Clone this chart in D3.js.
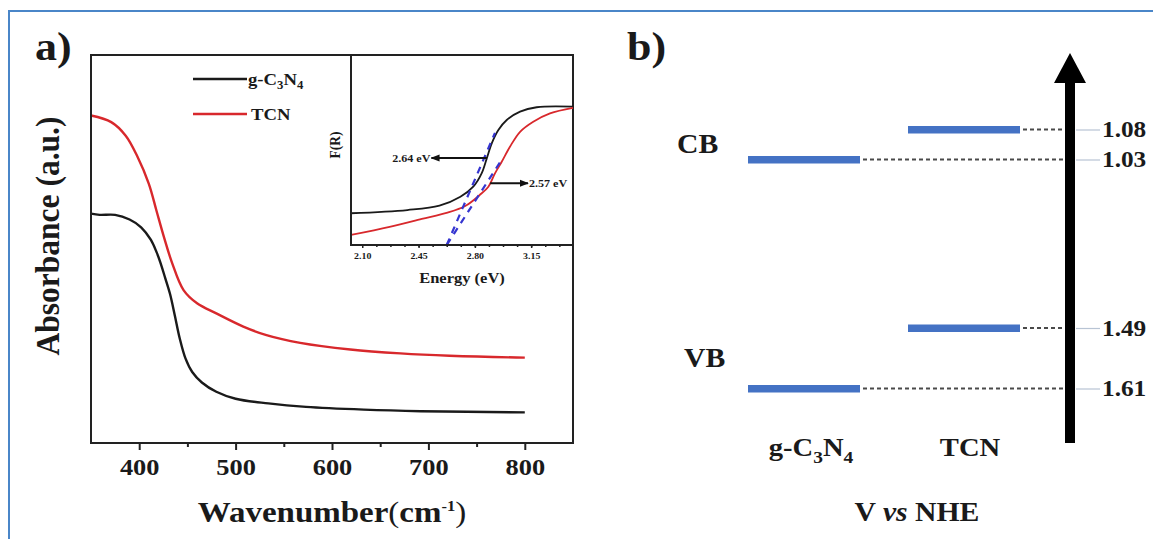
<!DOCTYPE html>
<html>
<head>
<meta charset="utf-8">
<title>Absorbance and band positions</title>
<script src="https://d3js.org/d3.v7.min.js"></script>
<style>
body { margin: 0; background: #fff; }
text { font-family: "Liberation Serif", "Times New Roman", serif; font-weight: bold; fill: #1a1a1a; }
</style>
</head>
<body>
<script type="text/javascript">

var width = 1153,
    height = 539,
    stretch = 1.1,      // the figure is a bit wider than tall, text too
    red = "#d8282c",
    blue = "#4472c4";

// panel a) main spectra
var gWave = [350, 359, 375, 390, 402, 412, 418, 422, 427, 432, 437, 442, 448, 455, 465, 480, 500, 534, 573, 633, 692, 800];
var gAbs  = [0.591, 0.588, 0.588, 0.576, 0.556, 0.524, 0.492, 0.465, 0.425, 0.384, 0.328, 0.270, 0.218, 0.183, 0.156, 0.132, 0.114, 0.102, 0.093, 0.086, 0.082, 0.079];
var tWave = [350, 371, 386, 398, 410, 418, 426, 434, 446, 460, 480, 508, 532, 567, 619, 671, 722, 800];
var tAbs  = [0.844, 0.827, 0.792, 0.739, 0.668, 0.598, 0.528, 0.465, 0.394, 0.360, 0.334, 0.300, 0.278, 0.258, 0.241, 0.231, 0.225, 0.220];
var xTicks = [400, 500, 600, 700, 800];
var xMinor = [450, 550, 650, 750];

// inset: F(R) vs energy
var gEnergy = [2.03, 2.38, 2.58, 2.71, 2.79, 2.842, 2.874, 2.905, 2.946, 2.998, 3.081, 3.184, 3.41];
var gFR     = [0.167, 0.184, 0.207, 0.254, 0.307, 0.377, 0.456, 0.535, 0.605, 0.658, 0.702, 0.725, 0.728];
var tEnergy = [2.03, 2.27, 2.47, 2.63, 2.74, 2.83, 2.884, 2.925, 2.967, 3.018, 3.081, 3.163, 3.267, 3.41];
var tFR     = [0.053, 0.096, 0.137, 0.170, 0.205, 0.263, 0.307, 0.377, 0.438, 0.517, 0.596, 0.649, 0.693, 0.722];
var insetTicks = [2.10, 2.45, 2.80, 3.15];
var tangentE = [[2.625, 2.925], [2.625, 2.975]];
var tangentF = [[0.0, 0.59], [0.0, 0.46]];
var gapLabels = ["2.64 eV", "2.57 eV"];
var gapArrowE = [[2.875, 2.53], [2.895, 3.13]];
var gapArrowF = [0.458, 0.325];

// panel b) band positions
var materials = ["g-C3N4", "TCN"];
var cbLevels = [-1.03, -1.08];
var vbLevels = [1.61, 1.49];
var potLevels = [-1.08, -1.03, 1.49, 1.61];
var potLabels = ["1.08", "1.03", "1.49", "1.61"];

var svg = d3.select("body").append("svg")
    .attr("width", width)
    .attr("height", height);

// outer blue frame
svg.append("rect")
    .attr("x", 9).attr("y", 11)
    .attr("width", width + 20).attr("height", height + 20)
    .style("fill", "none").style("stroke", "#4a86c8").style("stroke-width", 2);

function label(px, py, size, str) {
    var t = svg.append("text")
        .attr("transform", "translate(" + px + "," + py + ") scale(" + stretch + ",1)")
        .style("font-size", size + "px");
    if (str) t.text(str);
    return t;
}

// g-C3N4 with subscripts
function formula(sel, size) {
    sel.append("tspan").text("g-C");
    sel.append("tspan").text("3").attr("dy", size * 0.25).style("font-size", size * 0.68 + "px");
    sel.append("tspan").text("N").attr("dy", -size * 0.25);
    sel.append("tspan").text("4").attr("dy", size * 0.25).style("font-size", size * 0.68 + "px");
}

// ---------- panel a ----------
var x = d3.scaleLinear().domain([350, 850]).range([91, 573]);
var y = d3.scaleLinear().domain([0, 1]).range([443, 55]);

var line = d3.line().curve(d3.curveCatmullRom.alpha(0.5));

svg.append("path")
    .attr("d", line(gWave.map((w, i) => [x(w), y(gAbs[i])])))
    .style("fill", "none").style("stroke", "#1a1a1a").style("stroke-width", 2.4);
svg.append("path")
    .attr("d", line(tWave.map((w, i) => [x(w), y(tAbs[i])])))
    .style("fill", "none").style("stroke", red).style("stroke-width", 2.4);

svg.append("rect")
    .attr("x", 91).attr("y", 55).attr("width", 482).attr("height", 388)
    .style("fill", "none").style("stroke", "#222").style("stroke-width", 2);

var xAxis = svg.append("g").attr("transform", "translate(0,443)");
xAxis.call(d3.axisBottom(x).tickValues(xTicks).tickSize(7).tickPadding(8));
xAxis.append("g").call(d3.axisBottom(x).tickValues(xMinor).tickSize(4).tickFormat(""));
xAxis.selectAll(".domain").remove();
xAxis.selectAll("line").style("stroke", "#222").style("stroke-width", 2);
xAxis.selectAll("text").style("font-size", "24px").style("fill", "#1a1a1a")
    .style("font-family", "'Liberation Serif', serif").style("font-weight", "bold")
    .attr("transform", "scale(" + stretch + ",1)");

label(35, 60, 40, "a)");

svg.append("text")
    .attr("transform", "translate(59,236) rotate(-90) scale(1," + stretch + ")")
    .attr("text-anchor", "middle")
    .style("font-size", "31.5px")
    .text("Absorbance (a.u.)");

var xt = label(332, 522, 30).attr("text-anchor", "middle");
xt.append("tspan").text("Wavenumber");
xt.append("tspan").text("(").style("font-weight", "normal");
xt.append("tspan").text("cm");
xt.append("tspan").text("-1").attr("dy", -11).style("font-size", "15px");
xt.append("tspan").text(")").attr("dy", 11).style("font-weight", "normal");

// legend
var legendColors = ["#1a1a1a", red];
var legend = svg.append("g");
legend.selectAll("line").data(legendColors).enter().append("line")
    .attr("x1", 193).attr("x2", 247)
    .attr("y1", (d, i) => 79 + i * 35).attr("y2", (d, i) => 79 + i * 35)
    .style("stroke", d => d).style("stroke-width", 2.4);
formula(label(248, 85, 17), 17);
label(251, 120, 17, "TCN");

// ---------- inset ----------
var ix = d3.scaleLinear().domain([2.03, 3.41]).range([351, 573]);
var iy = d3.scaleLinear().domain([0, 1]).range([245, 55]);

svg.append("path")
    .attr("d", line(gEnergy.map((e, i) => [ix(e), iy(gFR[i])])))
    .style("fill", "none").style("stroke", "#1a1a1a").style("stroke-width", 1.8);
svg.append("path")
    .attr("d", line(tEnergy.map((e, i) => [ix(e), iy(tFR[i])])))
    .style("fill", "none").style("stroke", red).style("stroke-width", 1.8);

tangentE.forEach(function(e, k) {
    svg.append("line")
        .attr("x1", ix(e[0])).attr("y1", iy(tangentF[k][0]))
        .attr("x2", ix(e[1])).attr("y2", iy(tangentF[k][1]))
        .style("stroke", "#3535d0").style("stroke-width", 2.2).style("stroke-dasharray", "7,6");
});

svg.append("defs").append("marker")
    .attr("id", "head").attr("viewBox", "0 0 10 10")
    .attr("refX", 9).attr("refY", 5)
    .attr("markerWidth", 5).attr("markerHeight", 5)
    .attr("orient", "auto")
    .append("path").attr("d", "M0,1L10,5L0,9Z").style("fill", "#111");

gapArrowE.forEach(function(e, k) {
    svg.append("line")
        .attr("x1", ix(e[0])).attr("y1", iy(gapArrowF[k]))
        .attr("x2", ix(e[1])).attr("y2", iy(gapArrowF[k]))
        .attr("marker-end", "url(#head)")
        .style("stroke", "#111").style("stroke-width", 1.8);
    label(k == 0 ? ix(e[1]) - 1 : ix(e[1]) + 1, iy(gapArrowF[k]) + 4, 11, gapLabels[k])
        .attr("text-anchor", k == 0 ? "end" : "start");
});

svg.append("path")
    .attr("d", "M351,55V245H573")
    .style("fill", "none").style("stroke", "#222").style("stroke-width", 2);

var iAxis = svg.append("g").attr("transform", "translate(0,245)");
iAxis.call(d3.axisBottom(ix).tickValues(insetTicks).tickSize(3).tickPadding(5).tickFormat(d3.format(".2f")));
iAxis.append("g").call(d3.axisBottom(ix).tickValues(d3.range(2.1875, 3.41, 0.0875)).tickSize(2).tickFormat(""));
iAxis.selectAll(".domain").remove();
iAxis.selectAll("line").style("stroke", "#222").style("stroke-width", 1.5);
iAxis.selectAll("text").style("font-size", "9px").style("fill", "#1a1a1a")
    .style("font-family", "'Liberation Serif', serif").style("font-weight", "bold")
    .attr("transform", "scale(" + stretch + ",1)");

label(462, 283, 15, "Energy (eV)").attr("text-anchor", "middle");
svg.append("text").attr("transform", "translate(340,145) rotate(-90) scale(1," + stretch + ")")
    .attr("text-anchor", "middle")
    .style("font-size", "13.5px").text("F(R)");

// ---------- panel b ----------
var bx = d3.scaleBand().domain(materials).range([748, 1020]).paddingInner(0.3);
var by = d3.scaleLinear().domain(potLevels).range([129.5, 159.5, 328, 388.5]);
var arrowX = 1070;

label(627, 60, 40, "b)");

// dashed guides
var ends = materials.map((m, i) => [bx(m) + bx.bandwidth(), cbLevels[i]])
    .concat(materials.map((m, i) => [bx(m) + bx.bandwidth(), vbLevels[i]]));
svg.selectAll(".guide").data(ends).enter().append("line")
    .attr("class", "guide")
    .attr("x1", d => d[0] + 3).attr("x2", arrowX)
    .attr("y1", d => by(d[1])).attr("y2", d => by(d[1]))
    .style("stroke", "#4a4a4a").style("stroke-width", 1.8).style("stroke-dasharray", "4,3");

// bars
[cbLevels, vbLevels].forEach(function(levels) {
    svg.selectAll(null).data(materials).enter().append("rect")
        .attr("x", d => bx(d))
        .attr("y", (d, i) => by(levels[i]) - 3.5)
        .attr("width", bx.bandwidth())
        .attr("height", 7.5)
        .style("fill", blue);
});

// potential axis (arrow)
svg.append("line")
    .attr("x1", arrowX).attr("x2", arrowX).attr("y1", 443).attr("y2", 80)
    .style("stroke", "#000").style("stroke-width", 10);
svg.append("path")
    .attr("d", d3.line()([[arrowX - 16, 83], [arrowX, 53], [arrowX + 16, 83]]) + "Z")
    .style("fill", "#000");

var pAxis = svg.append("g").attr("transform", "translate(" + (arrowX + 6) + ",0)");
pAxis.call(d3.axisRight(by).tickValues(potLevels).tickSize(24).tickPadding(2)
    .tickFormat((d, i) => potLabels[i]));
pAxis.selectAll(".domain").remove();
pAxis.selectAll("line").style("stroke", "#b8c4d4").style("stroke-width", 1.2);
pAxis.selectAll("text").style("font-size", "23px").style("fill", "#1a1a1a")
    .style("font-family", "'Liberation Serif', serif").style("font-weight", "bold")
    .attr("x", 0).attr("transform", "translate(26,0) scale(" + stretch + ",1)");

label(677, 153, 27, "CB");
label(684, 367, 27, "VB");

formula(label(bx("g-C3N4") + bx.bandwidth() / 2 + 7, 456, 26).attr("text-anchor", "middle"), 26);
label(bx("TCN") + bx.bandwidth() / 2 + 6, 456, 26, "TCN").attr("text-anchor", "middle");

var vt = label(917, 521, 27).attr("text-anchor", "middle");
vt.append("tspan").text("V ");
vt.append("tspan").text("vs").style("font-style", "italic");
vt.append("tspan").text(" NHE");

</script>
</body>
</html>
